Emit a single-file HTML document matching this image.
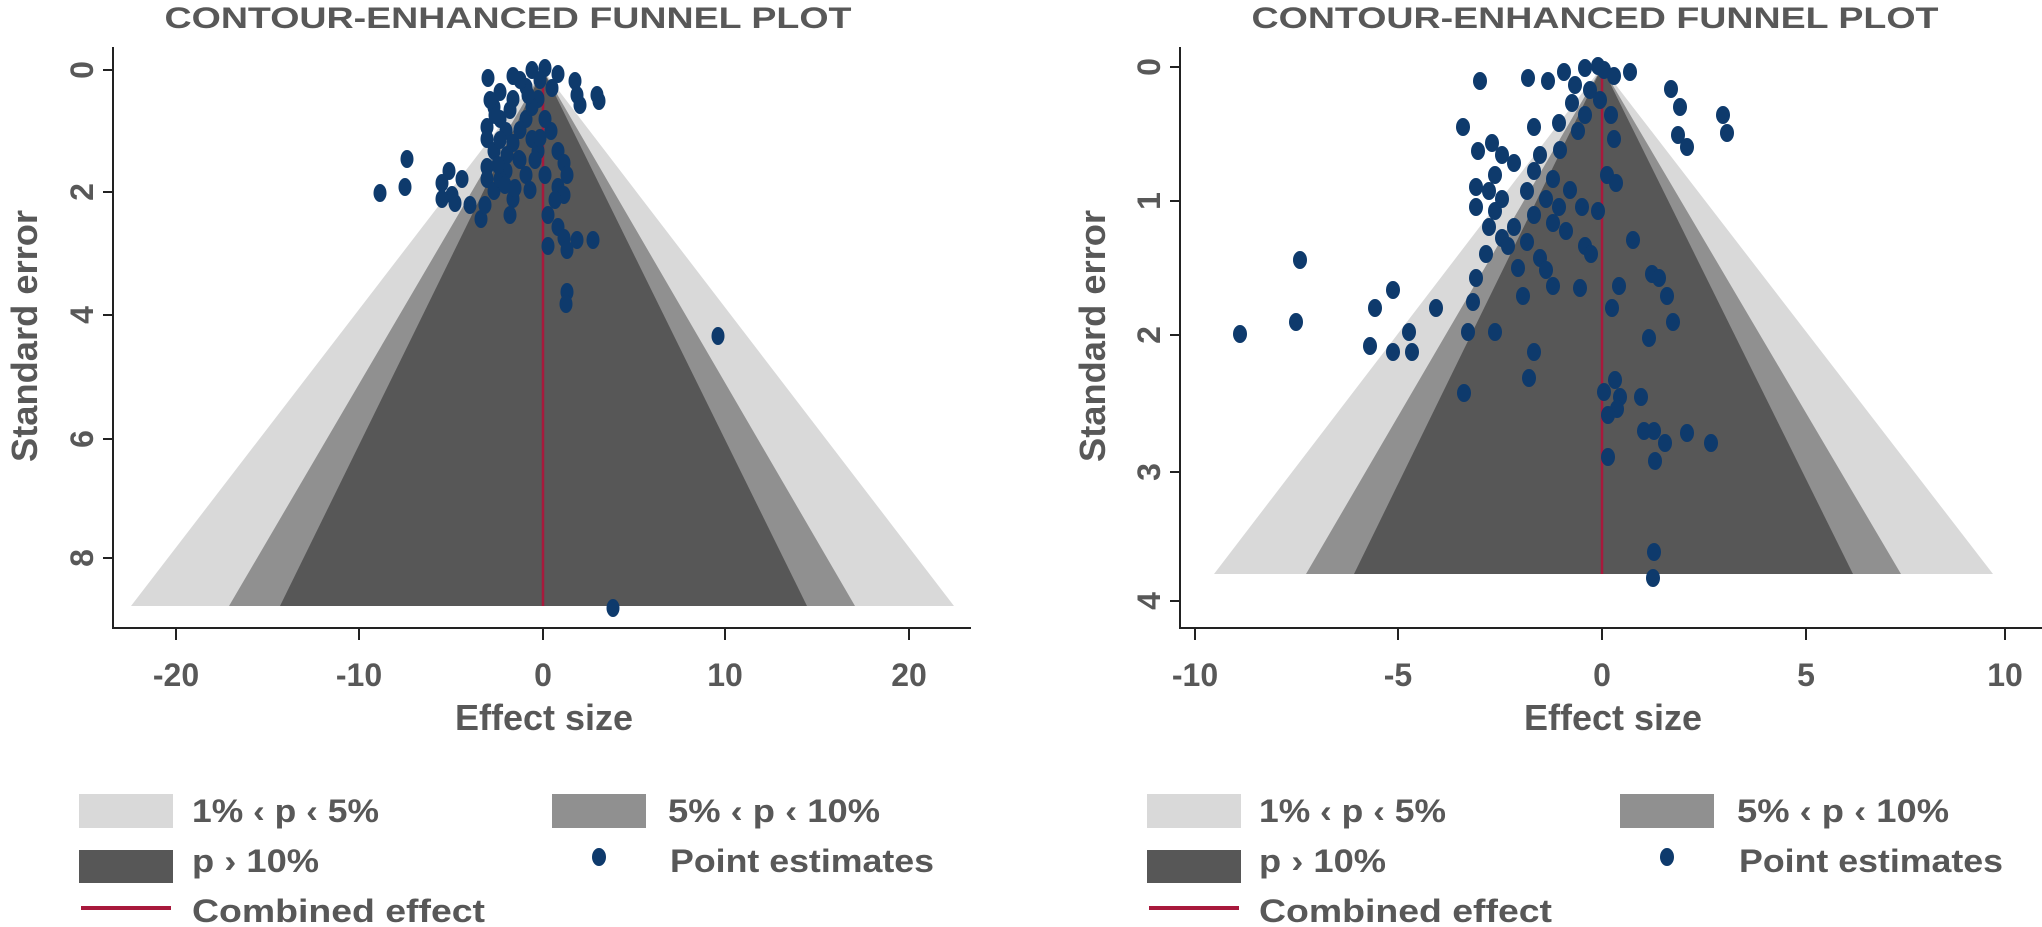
<!DOCTYPE html>
<html><head><meta charset="utf-8"><style>
html,body{margin:0;padding:0;background:#fff;}
svg{display:block;}
text{font-family:"Liberation Sans",sans-serif;fill:#585858;}
</style></head><body>
<svg width="2042" height="927" viewBox="0 0 2042 927" xmlns="http://www.w3.org/2000/svg">
<!-- LEFT PLOT -->
<text x="508" y="28" text-anchor="middle" font-size="30" font-weight="bold" textLength="687" lengthAdjust="spacingAndGlyphs">CONTOUR-ENHANCED FUNNEL PLOT</text>
<polygon points="543,70 954,606 131,606" fill="#d9d9d9"/>
<polygon points="543,70 855,606 229,606" fill="#909090"/>
<polygon points="543,70 807,606 280,606" fill="#575757"/>
<line x1="543" y1="70" x2="543" y2="606" stroke="#a8193c" stroke-width="2.5"/>
<g fill="#0e3a6c">
<ellipse cx="488" cy="78" rx="6.5" ry="9"/><ellipse cx="513" cy="76" rx="6.5" ry="9"/><ellipse cx="532" cy="70" rx="6.5" ry="9"/><ellipse cx="545" cy="68" rx="6.5" ry="9"/><ellipse cx="558" cy="74" rx="6.5" ry="9"/><ellipse cx="575" cy="81" rx="6.5" ry="9"/><ellipse cx="577" cy="95" rx="6.5" ry="9"/><ellipse cx="580" cy="105" rx="6.5" ry="9"/><ellipse cx="597" cy="95" rx="6.5" ry="9"/><ellipse cx="599" cy="101" rx="6.5" ry="9"/><ellipse cx="494" cy="107" rx="6.5" ry="9"/><ellipse cx="500" cy="119" rx="6.5" ry="9"/><ellipse cx="487" cy="127" rx="6.5" ry="9"/><ellipse cx="506" cy="131" rx="6.5" ry="9"/><ellipse cx="526" cy="119" rx="6.5" ry="9"/><ellipse cx="487" cy="139" rx="6.5" ry="9"/><ellipse cx="513" cy="143" rx="6.5" ry="9"/><ellipse cx="532" cy="139" rx="6.5" ry="9"/><ellipse cx="494" cy="151" rx="6.5" ry="9"/><ellipse cx="519" cy="159" rx="6.5" ry="9"/><ellipse cx="538" cy="151" rx="6.5" ry="9"/><ellipse cx="558" cy="151" rx="6.5" ry="9"/><ellipse cx="564" cy="163" rx="6.5" ry="9"/><ellipse cx="567" cy="175" rx="6.5" ry="9"/><ellipse cx="558" cy="187" rx="6.5" ry="9"/><ellipse cx="564" cy="195" rx="6.5" ry="9"/><ellipse cx="545" cy="175" rx="6.5" ry="9"/><ellipse cx="526" cy="175" rx="6.5" ry="9"/><ellipse cx="506" cy="171" rx="6.5" ry="9"/><ellipse cx="487" cy="167" rx="6.5" ry="9"/><ellipse cx="487" cy="179" rx="6.5" ry="9"/><ellipse cx="494" cy="191" rx="6.5" ry="9"/><ellipse cx="513" cy="199" rx="6.5" ry="9"/><ellipse cx="407" cy="159" rx="6.5" ry="9"/><ellipse cx="380" cy="193" rx="6.5" ry="9"/><ellipse cx="405" cy="187" rx="6.5" ry="9"/><ellipse cx="449" cy="171" rx="6.5" ry="9"/><ellipse cx="442" cy="183" rx="6.5" ry="9"/><ellipse cx="452" cy="195" rx="6.5" ry="9"/><ellipse cx="462" cy="179" rx="6.5" ry="9"/><ellipse cx="442" cy="199" rx="6.5" ry="9"/><ellipse cx="455" cy="203" rx="6.5" ry="9"/><ellipse cx="481" cy="219" rx="6.5" ry="9"/><ellipse cx="510" cy="215" rx="6.5" ry="9"/><ellipse cx="548" cy="215" rx="6.5" ry="9"/><ellipse cx="558" cy="227" rx="6.5" ry="9"/><ellipse cx="564" cy="238" rx="6.5" ry="9"/><ellipse cx="577" cy="240" rx="6.5" ry="9"/><ellipse cx="593" cy="240" rx="6.5" ry="9"/><ellipse cx="567" cy="250" rx="6.5" ry="9"/><ellipse cx="548" cy="246" rx="6.5" ry="9"/><ellipse cx="567" cy="292" rx="6.5" ry="9"/><ellipse cx="566" cy="304" rx="6.5" ry="9"/><ellipse cx="718" cy="336" rx="6.5" ry="9"/><ellipse cx="613" cy="608" rx="6.5" ry="9"/><ellipse cx="526" cy="87" rx="6.5" ry="9"/><ellipse cx="538" cy="99" rx="6.5" ry="9"/><ellipse cx="513" cy="99" rx="6.5" ry="9"/><ellipse cx="532" cy="107" rx="6.5" ry="9"/><ellipse cx="551" cy="131" rx="6.5" ry="9"/><ellipse cx="545" cy="119" rx="6.5" ry="9"/><ellipse cx="500" cy="179" rx="6.5" ry="9"/><ellipse cx="520" cy="80" rx="6.5" ry="9"/><ellipse cx="500" cy="92" rx="6.5" ry="9"/><ellipse cx="540" cy="80" rx="6.5" ry="9"/><ellipse cx="495" cy="115" rx="6.5" ry="9"/><ellipse cx="520" cy="160" rx="6.5" ry="9"/><ellipse cx="505" cy="185" rx="6.5" ry="9"/>
<ellipse cx="500" cy="140" rx="6.5" ry="9"/><ellipse cx="520" cy="130" rx="6.5" ry="9"/><ellipse cx="535" cy="160" rx="6.5" ry="9"/><ellipse cx="510" cy="110" rx="6.5" ry="9"/><ellipse cx="530" cy="190" rx="6.5" ry="9"/><ellipse cx="490" cy="100" rx="6.5" ry="9"/><ellipse cx="515" cy="188" rx="6.5" ry="9"/><ellipse cx="528" cy="95" rx="6.5" ry="9"/><ellipse cx="552" cy="88" rx="6.5" ry="9"/><ellipse cx="507" cy="155" rx="6.5" ry="9"/><ellipse cx="540" cy="138" rx="6.5" ry="9"/><ellipse cx="498" cy="165" rx="6.5" ry="9"/><ellipse cx="555" cy="200" rx="6.5" ry="9"/><ellipse cx="470" cy="205" rx="6.5" ry="9"/><ellipse cx="485" cy="205" rx="6.5" ry="9"/>
</g>
<line x1="113" y1="47" x2="113" y2="629" stroke="#222" stroke-width="2"/>
<line x1="112" y1="628" x2="971" y2="628" stroke="#222" stroke-width="2"/>
<g stroke="#222" stroke-width="2">
<line x1="103" y1="70" x2="113" y2="70"/><line x1="103" y1="192" x2="113" y2="192"/><line x1="103" y1="315" x2="113" y2="315"/><line x1="103" y1="439" x2="113" y2="439"/><line x1="103" y1="558" x2="113" y2="558"/>
<line x1="176" y1="628" x2="176" y2="640"/><line x1="359" y1="628" x2="359" y2="640"/><line x1="543" y1="628" x2="543" y2="640"/><line x1="725" y1="628" x2="725" y2="640"/><line x1="909" y1="628" x2="909" y2="640"/>
</g>
<g font-size="32" font-weight="bold" text-anchor="middle">
<text transform="translate(93,70) rotate(-90)">0</text><text transform="translate(93,192) rotate(-90)">2</text><text transform="translate(93,315) rotate(-90)">4</text><text transform="translate(93,439) rotate(-90)">6</text><text transform="translate(93,558) rotate(-90)">8</text>
<text x="176" y="686">-20</text><text x="359" y="686">-10</text><text x="543" y="686">0</text><text x="725" y="686">10</text><text x="909" y="686">20</text>
<text transform="translate(37,336) rotate(-90)" font-size="36" textLength="252" lengthAdjust="spacingAndGlyphs">Standard error</text>
<text x="544" y="730" font-size="36" textLength="178" lengthAdjust="spacingAndGlyphs">Effect size</text>
</g>
<rect x="79" y="794" width="94" height="34" fill="#d9d9d9"/>
<rect x="552" y="794" width="94" height="34" fill="#909090"/>
<rect x="79" y="850" width="94" height="33" fill="#575757"/>
<ellipse cx="599" cy="857" rx="7" ry="9" fill="#0e3a6c"/>
<line x1="81" y1="908" x2="171" y2="908" stroke="#a8193c" stroke-width="4"/>
<g font-size="32" font-weight="bold">
<text x="192" y="822" textLength="187" lengthAdjust="spacingAndGlyphs">1% ‹ p ‹ 5%</text>
<text x="668" y="822" textLength="212" lengthAdjust="spacingAndGlyphs">5% ‹ p ‹ 10%</text>
<text x="192" y="872" textLength="127" lengthAdjust="spacingAndGlyphs">p › 10%</text>
<text x="670" y="872" textLength="264" lengthAdjust="spacingAndGlyphs">Point estimates</text>
<text x="192" y="922" textLength="293" lengthAdjust="spacingAndGlyphs">Combined effect</text>
</g>

<!-- RIGHT PLOT -->
<text x="1595" y="28" text-anchor="middle" font-size="30" font-weight="bold" textLength="687" lengthAdjust="spacingAndGlyphs">CONTOUR-ENHANCED FUNNEL PLOT</text>
<polygon points="1602,67 1993,574 1214,574" fill="#d9d9d9"/>
<polygon points="1602,67 1901,574 1306,574" fill="#909090"/>
<polygon points="1602,67 1853,574 1354,574" fill="#575757"/>
<line x1="1602" y1="67" x2="1602" y2="574" stroke="#a8193c" stroke-width="2.5"/>
<g fill="#0e3a6c" transform="translate(1040,0)">
<ellipse cx="440" cy="81" rx="7" ry="9"/><ellipse cx="488" cy="78" rx="7" ry="9"/><ellipse cx="508" cy="81" rx="7" ry="9"/><ellipse cx="524" cy="72" rx="7" ry="9"/><ellipse cx="545" cy="68" rx="7" ry="9"/><ellipse cx="558" cy="66" rx="7" ry="9"/><ellipse cx="564" cy="70" rx="7" ry="9"/><ellipse cx="574" cy="76" rx="7" ry="9"/><ellipse cx="590" cy="72" rx="7" ry="9"/><ellipse cx="631" cy="89" rx="7" ry="9"/><ellipse cx="640" cy="107" rx="7" ry="9"/><ellipse cx="683" cy="115" rx="7" ry="9"/><ellipse cx="687" cy="133" rx="7" ry="9"/><ellipse cx="638" cy="135" rx="7" ry="9"/><ellipse cx="647" cy="147" rx="7" ry="9"/><ellipse cx="532" cy="103" rx="7" ry="9"/><ellipse cx="545" cy="115" rx="7" ry="9"/><ellipse cx="519" cy="123" rx="7" ry="9"/><ellipse cx="494" cy="127" rx="7" ry="9"/><ellipse cx="538" cy="131" rx="7" ry="9"/><ellipse cx="571" cy="115" rx="7" ry="9"/><ellipse cx="574" cy="139" rx="7" ry="9"/><ellipse cx="567" cy="175" rx="7" ry="9"/><ellipse cx="576" cy="183" rx="7" ry="9"/><ellipse cx="438" cy="151" rx="7" ry="9"/><ellipse cx="452" cy="143" rx="7" ry="9"/><ellipse cx="462" cy="155" rx="7" ry="9"/><ellipse cx="474" cy="163" rx="7" ry="9"/><ellipse cx="494" cy="171" rx="7" ry="9"/><ellipse cx="513" cy="179" rx="7" ry="9"/><ellipse cx="436" cy="187" rx="7" ry="9"/><ellipse cx="449" cy="191" rx="7" ry="9"/><ellipse cx="436" cy="207" rx="7" ry="9"/><ellipse cx="455" cy="211" rx="7" ry="9"/><ellipse cx="487" cy="191" rx="7" ry="9"/><ellipse cx="506" cy="199" rx="7" ry="9"/><ellipse cx="519" cy="207" rx="7" ry="9"/><ellipse cx="494" cy="215" rx="7" ry="9"/><ellipse cx="513" cy="223" rx="7" ry="9"/><ellipse cx="526" cy="231" rx="7" ry="9"/><ellipse cx="542" cy="207" rx="7" ry="9"/><ellipse cx="558" cy="211" rx="7" ry="9"/><ellipse cx="449" cy="227" rx="7" ry="9"/><ellipse cx="462" cy="238" rx="7" ry="9"/><ellipse cx="446" cy="254" rx="7" ry="9"/><ellipse cx="468" cy="246" rx="7" ry="9"/><ellipse cx="487" cy="242" rx="7" ry="9"/><ellipse cx="500" cy="258" rx="7" ry="9"/><ellipse cx="545" cy="246" rx="7" ry="9"/><ellipse cx="551" cy="254" rx="7" ry="9"/><ellipse cx="593" cy="240" rx="7" ry="9"/><ellipse cx="478" cy="268" rx="7" ry="9"/><ellipse cx="506" cy="270" rx="7" ry="9"/><ellipse cx="513" cy="286" rx="7" ry="9"/><ellipse cx="436" cy="278" rx="7" ry="9"/><ellipse cx="433" cy="302" rx="7" ry="9"/><ellipse cx="396" cy="308" rx="7" ry="9"/><ellipse cx="353" cy="290" rx="7" ry="9"/><ellipse cx="335" cy="308" rx="7" ry="9"/><ellipse cx="260" cy="260" rx="7" ry="9"/><ellipse cx="256" cy="322" rx="7" ry="9"/><ellipse cx="200" cy="334" rx="7" ry="9"/><ellipse cx="330" cy="346" rx="7" ry="9"/><ellipse cx="353" cy="352" rx="7" ry="9"/><ellipse cx="369" cy="332" rx="7" ry="9"/><ellipse cx="372" cy="352" rx="7" ry="9"/><ellipse cx="428" cy="332" rx="7" ry="9"/><ellipse cx="455" cy="332" rx="7" ry="9"/><ellipse cx="483" cy="296" rx="7" ry="9"/><ellipse cx="540" cy="288" rx="7" ry="9"/><ellipse cx="579" cy="286" rx="7" ry="9"/><ellipse cx="612" cy="274" rx="7" ry="9"/><ellipse cx="619" cy="278" rx="7" ry="9"/><ellipse cx="627" cy="296" rx="7" ry="9"/><ellipse cx="633" cy="322" rx="7" ry="9"/><ellipse cx="609" cy="338" rx="7" ry="9"/><ellipse cx="572" cy="308" rx="7" ry="9"/><ellipse cx="494" cy="352" rx="7" ry="9"/><ellipse cx="489" cy="378" rx="7" ry="9"/><ellipse cx="424" cy="393" rx="7" ry="9"/><ellipse cx="564" cy="392" rx="7" ry="9"/><ellipse cx="575" cy="380" rx="7" ry="9"/><ellipse cx="580" cy="397" rx="7" ry="9"/><ellipse cx="577" cy="409" rx="7" ry="9"/><ellipse cx="568" cy="415" rx="7" ry="9"/><ellipse cx="601" cy="397" rx="7" ry="9"/><ellipse cx="604" cy="431" rx="7" ry="9"/><ellipse cx="614" cy="431" rx="7" ry="9"/><ellipse cx="625" cy="443" rx="7" ry="9"/><ellipse cx="647" cy="433" rx="7" ry="9"/><ellipse cx="671" cy="443" rx="7" ry="9"/><ellipse cx="615" cy="461" rx="7" ry="9"/><ellipse cx="568" cy="457" rx="7" ry="9"/><ellipse cx="614" cy="552" rx="7" ry="9"/><ellipse cx="613" cy="578" rx="7" ry="9"/><ellipse cx="423" cy="127" rx="7" ry="9"/><ellipse cx="455" cy="175" rx="7" ry="9"/><ellipse cx="462" cy="199" rx="7" ry="9"/><ellipse cx="474" cy="227" rx="7" ry="9"/><ellipse cx="500" cy="155" rx="7" ry="9"/><ellipse cx="520" cy="150" rx="7" ry="9"/><ellipse cx="530" cy="190" rx="7" ry="9"/><ellipse cx="550" cy="90" rx="7" ry="9"/><ellipse cx="535" cy="85" rx="7" ry="9"/><ellipse cx="560" cy="100" rx="7" ry="9"/>
</g>
<line x1="1180" y1="47" x2="1180" y2="629" stroke="#222" stroke-width="2"/>
<line x1="1179" y1="628" x2="2042" y2="628" stroke="#222" stroke-width="2"/>
<g stroke="#222" stroke-width="2">
<line x1="1170" y1="67" x2="1180" y2="67"/><line x1="1170" y1="201" x2="1180" y2="201"/><line x1="1170" y1="335" x2="1180" y2="335"/><line x1="1170" y1="472" x2="1180" y2="472"/><line x1="1170" y1="601" x2="1180" y2="601"/>
<line x1="1195" y1="628" x2="1195" y2="640"/><line x1="1398" y1="628" x2="1398" y2="640"/><line x1="1602" y1="628" x2="1602" y2="640"/><line x1="1806" y1="628" x2="1806" y2="640"/><line x1="2005" y1="628" x2="2005" y2="640"/>
</g>
<g font-size="32" font-weight="bold" text-anchor="middle">
<text transform="translate(1160,67) rotate(-90)">0</text><text transform="translate(1160,201) rotate(-90)">1</text><text transform="translate(1160,335) rotate(-90)">2</text><text transform="translate(1160,472) rotate(-90)">3</text><text transform="translate(1160,601) rotate(-90)">4</text>
<text x="1195" y="686">-10</text><text x="1398" y="686">-5</text><text x="1602" y="686">0</text><text x="1806" y="686">5</text><text x="2005" y="686">10</text>
<text transform="translate(1105,336) rotate(-90)" font-size="36" textLength="252" lengthAdjust="spacingAndGlyphs">Standard error</text>
<text x="1613" y="730" font-size="36" textLength="178" lengthAdjust="spacingAndGlyphs">Effect size</text>
</g>
<rect x="1147" y="794" width="94" height="34" fill="#d9d9d9"/>
<rect x="1620" y="794" width="94" height="34" fill="#909090"/>
<rect x="1147" y="850" width="94" height="33" fill="#575757"/>
<ellipse cx="1667" cy="857" rx="7" ry="9" fill="#0e3a6c"/>
<line x1="1149" y1="908" x2="1239" y2="908" stroke="#a8193c" stroke-width="4"/>
<g font-size="32" font-weight="bold">
<text x="1259" y="822" textLength="187" lengthAdjust="spacingAndGlyphs">1% ‹ p ‹ 5%</text>
<text x="1737" y="822" textLength="212" lengthAdjust="spacingAndGlyphs">5% ‹ p ‹ 10%</text>
<text x="1259" y="872" textLength="127" lengthAdjust="spacingAndGlyphs">p › 10%</text>
<text x="1739" y="872" textLength="264" lengthAdjust="spacingAndGlyphs">Point estimates</text>
<text x="1259" y="922" textLength="293" lengthAdjust="spacingAndGlyphs">Combined effect</text>
</g>
</svg>
</body></html>
